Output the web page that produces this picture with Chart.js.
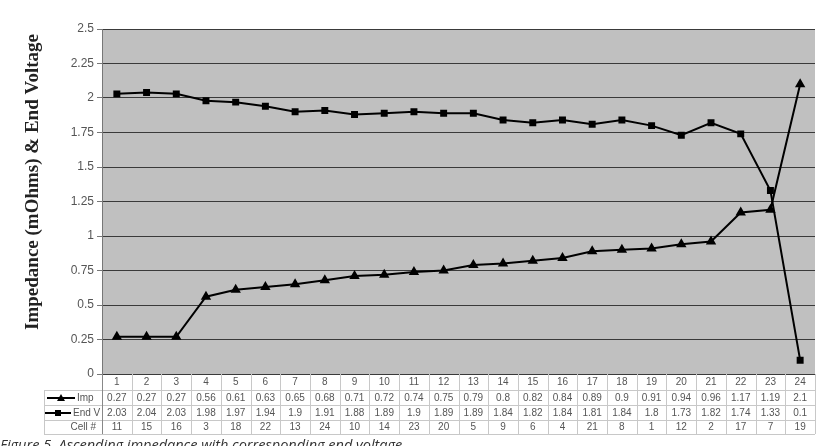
<!DOCTYPE html>
<html><head><meta charset="utf-8">
<script src="https://cdn.jsdelivr.net/npm/chart.js@4/dist/chart.umd.min.js"></script>
<style>html,body{margin:0;padding:0;background:#fff}canvas{display:block}</style>
</head><body>
<canvas id="c" width="816" height="446"></canvas>
<script>
const categories = ['1','2','3','4','5','6','7','8','9','10','11','12','13','14','15','16','17','18','19','20','21','22','23','24'];
const impValues = [0.27,0.27,0.27,0.56,0.61,0.63,0.65,0.68,0.71,0.72,0.74,0.75,0.79,0.8,0.82,0.84,0.89,0.9,0.91,0.94,0.96,1.17,1.19,2.1];
const endVValues = [2.03,2.04,2.03,1.98,1.97,1.94,1.9,1.91,1.88,1.89,1.9,1.89,1.89,1.84,1.82,1.84,1.81,1.84,1.8,1.73,1.82,1.74,1.33,0.1];
const cellNumbers = ['11','15','16','3','18','22','13','24','10','14','23','20','5','9','6','4','21','8','1','12','2','17','7','19'];
const impLabels = ['0.27','0.27','0.27','0.56','0.61','0.63','0.65','0.68','0.71','0.72','0.74','0.75','0.79','0.8','0.82','0.84','0.89','0.9','0.91','0.94','0.96','1.17','1.19','2.1'];
const endVLabels = ['2.03','2.04','2.03','1.98','1.97','1.94','1.9','1.91','1.88','1.89','1.9','1.89','1.89','1.84','1.82','1.84','1.81','1.84','1.8','1.73','1.82','1.74','1.33','0.1'];
const yTickLabels = ['0','0.25','0.5','0.75','1','1.25','1.5','1.75','2','2.25','2.5'];
const seriesNames = ['Imp','End V','Cell #'];
const yAxisTitle = 'Impedance (mOhms) & End Voltage';
const caption = 'Figure 5. Ascending impedance with corresponding end voltage';

const plotBg = {
  id:'plotBg',
  beforeDraw(chart){
    const {ctx, chartArea:a} = chart;
    ctx.save();
    ctx.fillStyle = '#c0c0c0';
    ctx.fillRect(a.left, a.top, a.right - a.left, a.bottom - a.top);
    ctx.restore();
  }
};

function drawMarker(ctx, type, x, y){
  ctx.beginPath();
  if(type === 'tri'){
    ctx.moveTo(x, y-4); ctx.lineTo(x+4, y+3); ctx.lineTo(x-4, y+3); ctx.closePath();
  } else {
    ctx.rect(x-3, y-3, 6, 6);
  }
  ctx.fill();
}

const extras = {
  id:'extras',
  afterDraw(chart){
    const {ctx, chartArea:a} = chart;
    const xs = chart.scales.x;
    const n = categories.length;
    const colW = (a.right - a.left) / n;
    const rows = [374, 390, 405, 420, 434];
    const tableLeft = 44;
    ctx.save();
    ctx.strokeStyle = '#c8c8c8';
    ctx.lineWidth = 1;
    for(let r = 1; r < rows.length; r++){
      ctx.beginPath();
      ctx.moveTo(tableLeft, rows[r] + 0.5);
      ctx.lineTo(a.right, rows[r] + 0.5);
      ctx.stroke();
    }
    for(let i = 0; i <= n; i++){
      const x = Math.round(a.left + i * colW) + 0.5;
      ctx.beginPath(); ctx.moveTo(x, rows[0]); ctx.lineTo(x, rows[4]); ctx.stroke();
    }
    ctx.beginPath(); ctx.moveTo(tableLeft+0.5, rows[1]); ctx.lineTo(tableLeft+0.5, rows[4]); ctx.stroke();
    ctx.strokeStyle = '#888';
    ctx.beginPath(); ctx.moveTo(a.left+0.5, rows[0]); ctx.lineTo(a.left+0.5, rows[4]); ctx.stroke();

    ctx.fillStyle = '#555';
    ctx.font = '10px "Liberation Sans", Arial, sans-serif';
    ctx.textAlign = 'center';
    ctx.textBaseline = 'middle';
    for(let i = 0; i < n; i++){
      const x = xs.getPixelForValue(i);
      ctx.fillText(categories[i], x, 382);
      ctx.fillText(impLabels[i], x, 398);
      ctx.fillText(endVLabels[i], x, 413);
      ctx.fillText(cellNumbers[i], x, 427);
    }
    ctx.textAlign = 'left';
    ctx.fillText(seriesNames[0], 77, 398);
    ctx.fillText(seriesNames[1], 73, 413);
    ctx.textAlign = 'right';
    ctx.fillText(seriesNames[2], 96, 427);
    ctx.strokeStyle = '#000'; ctx.fillStyle = '#000'; ctx.lineWidth = 2;
    ctx.beginPath(); ctx.moveTo(47, 398); ctx.lineTo(75, 398); ctx.stroke();
    drawMarker(ctx, 'tri', 61, 398);
    ctx.beginPath(); ctx.moveTo(45, 413); ctx.lineTo(71, 413); ctx.stroke();
    drawMarker(ctx, 'sq', 58, 413);

    ctx.save();
    ctx.translate(33, 182);
    ctx.rotate(-Math.PI/2);
    ctx.fillStyle = '#222';
    ctx.font = 'bold 19px "Liberation Serif", "Times New Roman", serif';
    ctx.textAlign = 'center';
    ctx.textBaseline = 'middle';
    ctx.fillText(yAxisTitle, 0, 0);
    ctx.restore();

    ctx.fillStyle = '#333';
    ctx.font = 'italic 14.5px "Open Sans", sans-serif';
    ctx.textAlign = 'left';
    ctx.textBaseline = 'alphabetic';
    ctx.fillText(caption, 0, 450);
    ctx.restore();
  }
};

new Chart(document.getElementById('c'), {
  type:'line',
  data:{
    labels: categories,
    datasets:[
      {label:seriesNames[0], data:impValues, borderColor:'#000', backgroundColor:'#000', borderWidth:2,
       pointStyle:'triangle', pointRadius:4, pointBackgroundColor:'#000', pointBorderColor:'#000', tension:0},
      {label:seriesNames[1], data:endVValues, borderColor:'#000', backgroundColor:'#000', borderWidth:2,
       pointStyle:'rect', pointRadius:3.5, pointBackgroundColor:'#000', pointBorderColor:'#000', tension:0}
    ]
  },
  options:{
    responsive:false, animation:false, devicePixelRatio:1,
    layout:{autoPadding:false, padding:{left:2, top:29, right:1, bottom:72}},
    plugins:{legend:{display:false}, tooltip:{enabled:false}, title:{display:false}},
    scales:{
      x:{type:'category', offset:true, display:false},
      y:{
        min:0, max:2.5,
        afterFit(axis){ axis.width = 100; },
        ticks:{stepSize:0.25, color:'#555', padding:3,
          font:{family:'"Liberation Sans", Arial, sans-serif', size:12},
          callback:(v, i) => yTickLabels[i]},
        grid:{color:'#3a3a3a', lineWidth:1, tickLength:5, tickColor:'#777'},
        border:{color:'#777', width:1}
      }
    }
  },
  plugins:[plotBg, extras]
});
</script>
</body></html>
